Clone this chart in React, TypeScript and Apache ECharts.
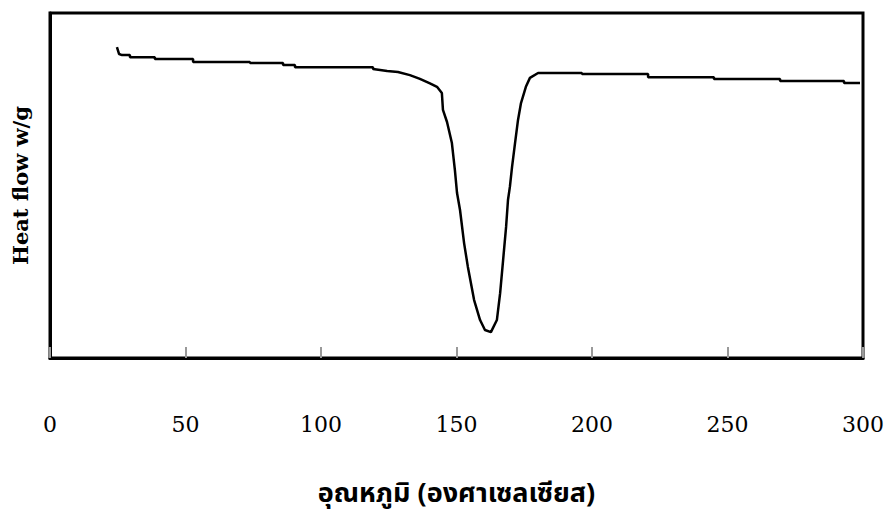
import React, { useEffect, useRef } from "react";
import * as echarts from "echarts";

// Temperature (°C)
const temperature: number[] = [
  24.7, 25.5, 26.6, 29.5, 29.5, 38.7, 38.7, 52.8, 52.8, 73.8, 73.8, 86.0, 86.0,
  90.4, 90.4, 119.2, 119.2, 124.4, 128.4, 132.8, 136.5, 140.2, 142.8, 144.6,
  145.0, 146.5, 148.3, 149.4, 150.2, 151.3, 152.8, 154.2, 156.5, 158.7, 160.5,
  162.7, 164.9, 166.1, 167.2, 168.3, 169.0, 169.7, 170.5, 171.6, 172.7, 173.8,
  175.6, 177.1, 180.1, 196.3, 196.3, 220.7, 220.7, 245.0, 245.0, 269.4, 269.4,
  293.0, 293.0, 298.9,
];

// Heat flow (relative units, 0–100 of the plot height)
const heatFlow: number[] = [
  90.1, 88.1, 87.8, 87.8, 87.2, 87.2, 86.7, 86.7, 85.8, 85.8, 85.5, 85.5, 84.9,
  84.9, 84.3, 84.3, 83.8, 83.2, 82.9, 82.0, 80.9, 79.6, 78.6, 76.8,
  71.9, 68.4, 62.3, 54.5, 47.8, 42.9, 33.3, 26.4, 16.8, 11.0, 8.1,
  7.5, 11.0, 18.8, 28.4, 38.0, 45.8, 49.6, 55.4, 62.3, 69.0, 73.9,
  78.6, 81.2, 82.6, 82.6, 82.3, 82.3, 81.4, 81.4, 80.9, 80.9, 80.3,
  80.3, 79.7, 79.7,
];

const xTicks: number[] = [0, 50, 100, 150, 200, 250, 300];

const xTitle = "อุณหภูมิ (องศาเซลเซียส)";
const yTitle = "Heat flow w/g";

export default function App() {
  const ref = useRef<HTMLDivElement>(null);

  useEffect(() => {
    if (!ref.current) return;
    const chart = echarts.init(ref.current, null, { renderer: "svg" });
    const data = temperature.map((t, i) => [t, heatFlow[i]]);
    chart.setOption({
      animation: false,
      backgroundColor: "#ffffff",
      grid: {
        left: 50,
        right: 27,
        top: 13,
        bottom: 159,
        containLabel: false,
        outerBoundsMode: "none",
        show: true,
        borderColor: "#000000",
        borderWidth: 3,
        backgroundColor: "transparent",
      },
      xAxis: {
        type: "value",
        min: xTicks[0],
        max: xTicks[xTicks.length - 1],
        interval: 50,
        name: xTitle,
        nameLocation: "middle",
        nameGap: 122,
        nameTextStyle: {
          fontFamily: "'Noto Sans Thai', 'Noto Sans', Tahoma, sans-serif",
          fontWeight: "bold",
          fontSize: 27,
          color: "#000000",
        },
        axisLine: { show: true, lineStyle: { color: "#000000", width: 3 } },
        axisTick: {
          show: true,
          inside: true,
          length: 11,
          lineStyle: { color: "#999999", width: 2 },
        },
        axisLabel: {
          margin: 55,
          fontFamily: "'DejaVu Serif', serif",
          fontSize: 22,
          color: "#000000",
        },
        splitLine: { show: false },
      },
      yAxis: {
        type: "value",
        min: 0,
        max: 100,
        name: yTitle,
        nameLocation: "middle",
        nameGap: 19,
        nameTextStyle: {
          fontFamily: "'DejaVu Serif', serif",
          fontWeight: "bold",
          fontSize: 21,
          color: "#000000",
        },
        axisLine: { show: true, lineStyle: { color: "#000000", width: 3 } },
        axisTick: { show: false },
        axisLabel: { show: false },
        splitLine: { show: false },
      },
      series: [
        {
          type: "line",
          data,
          showSymbol: false,
          symbol: "none",
          lineStyle: { color: "#000000", width: 2.5 },
          smooth: false,
        },
      ],
    });
    return () => chart.dispose();
  }, []);

  return (
    <div
      ref={ref}
      style={{ position: "fixed", left: 0, top: 0, width: 890, height: 517, background: "#fff" }}
    />
  );
}
